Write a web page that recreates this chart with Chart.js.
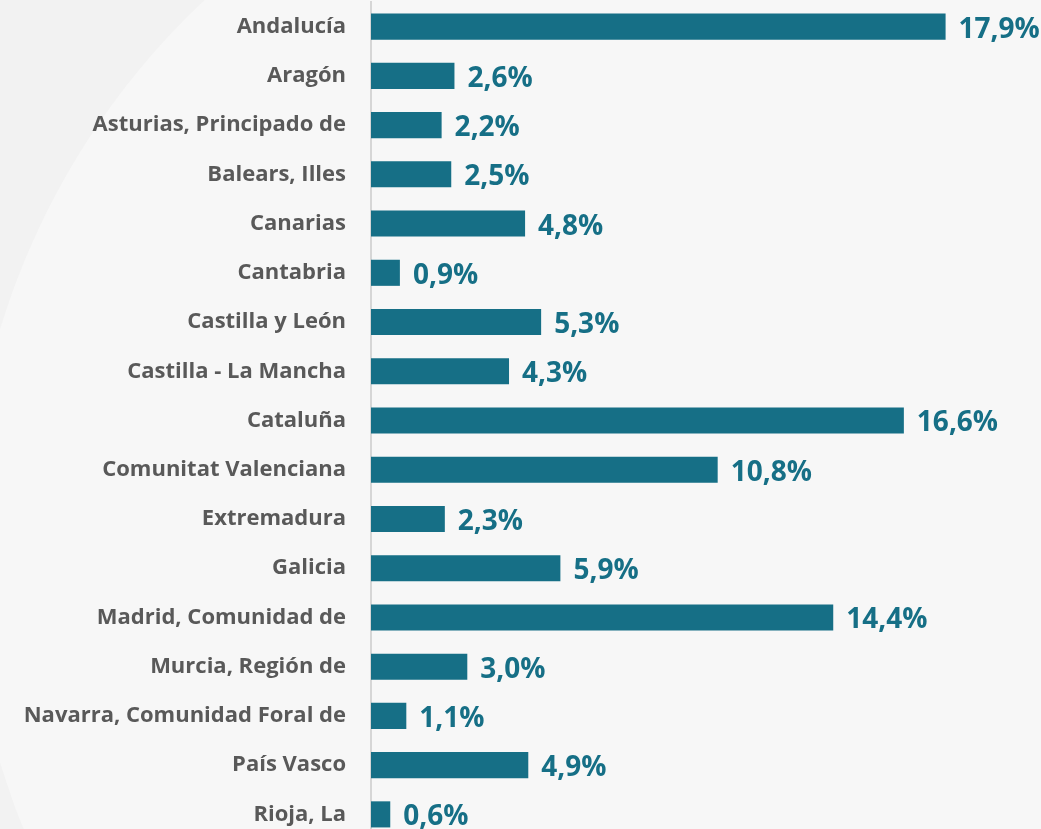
<!DOCTYPE html>
<html lang="es">
  <head>
    <meta charset="UTF-8" />
    <title>Distribución por comunidad autónoma</title>
    <script src="https://cdn.jsdelivr.net/npm/chart.js@4"></script>
    <style>
      html, body { margin: 0; padding: 0; overflow: hidden; background: #f7f7f7; }
      #wrap { width: 1041px; height: 840px; position: relative; }
    </style>
  </head>
  <body>
    <div id="wrap"><canvas id="myChart" width="1041" height="840"></canvas></div>
    <script>
      const regions = [
        'Andalucía', 'Aragón', 'Asturias, Principado de', 'Balears, Illes',
        'Canarias', 'Cantabria', 'Castilla y León', 'Castilla - La Mancha',
        'Cataluña', 'Comunitat Valenciana', 'Extremadura', 'Galicia',
        'Madrid, Comunidad de', 'Murcia, Región de', 'Navarra, Comunidad Foral de',
        'País Vasco', 'Rioja, La'
      ];
      const shares = [17.9, 2.6, 2.2, 2.5, 4.8, 0.9, 5.3, 4.3, 16.6, 10.8, 2.3, 5.9, 14.4, 3.0, 1.1, 4.9, 0.6];

      const barColor = '#166f86';

      // soft background shapes behind the chart
      const backdrop = {
        id: 'backdrop',
        beforeDraw(chart) {
          const c = chart.ctx;
          c.save();
          c.fillStyle = '#f2f2f2';
          c.fillRect(0, 0, chart.width, chart.height);
          c.fillStyle = '#f7f7f7';
          c.beginPath();
          c.arc(716, 546, 748, 0, Math.PI * 2);
          c.fill();
          c.fillStyle = '#f2f2f2';
          c.beginPath();
          c.moveTo(0, 765);
          c.quadraticCurveTo(12, 795, 22, 840);
          c.lineTo(0, 840);
          c.closePath();
          c.fill();
          c.restore();
        }
      };

      // percentage labels at the end of each bar
      const valueLabels = {
        id: 'valueLabels',
        afterDatasetsDraw(chart) {
          const c = chart.ctx;
          const meta = chart.getDatasetMeta(0);
          c.save();
          c.font = 'bold 28px "Open Sans"';
          c.fillStyle = barColor;
          c.textAlign = 'left';
          c.textBaseline = 'middle';
          meta.data.forEach((bar, i) => {
            const txt = shares[i].toFixed(1).replace('.', ',') + '%';
            c.fillText(txt, bar.x + 13, bar.y + 3);
          });
          c.restore();
        }
      };

      const ctx = document.getElementById('myChart').getContext('2d');
      new Chart(ctx, {
        type: 'bar',
        data: {
          labels: regions,
          datasets: [{
            data: shares,
            backgroundColor: barColor,
            borderWidth: 0,
            categoryPercentage: 1,
            barPercentage: 0.53
          }]
        },
        options: {
          indexAxis: 'y',
          responsive: false,
          animation: false,
          layout: { padding: { top: 2, right: 28, bottom: 1, left: 0 } },
          plugins: { legend: { display: false }, tooltip: { enabled: false } },
          scales: {
            x: { display: false, min: 0, max: 20 },
            y: {
              afterFit(scale) {
                scale.width = 371;
                scale.paddingTop = 0;
                scale.paddingBottom = 0;
              },
              grid: { display: false, drawTicks: false },
              border: { display: true, color: '#d6d6d6', width: 2 },
              ticks: {
                padding: 25,
                color: '#595959',
                font: { family: '"Open Sans"', weight: 'bold', size: 22 }
              }
            }
          }
        },
        plugins: [backdrop, valueLabels]
      });
    </script>
  </body>
</html>
